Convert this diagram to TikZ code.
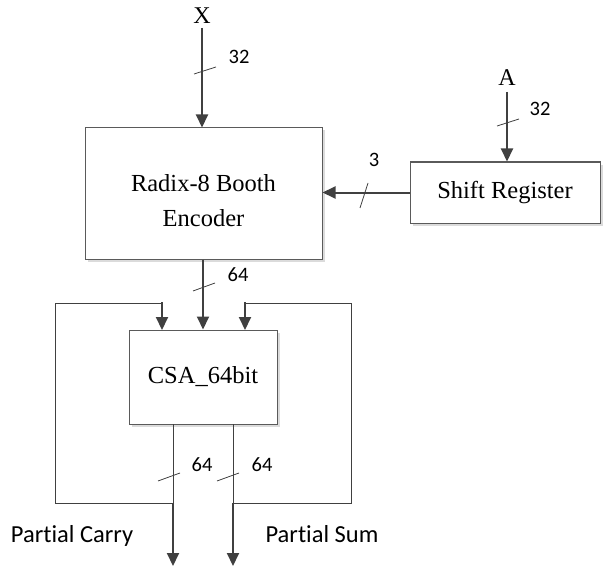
\documentclass[tikz,border=0pt]{standalone}
\usepackage{fontspec}
\setmainfont{Liberation Serif}
\newfontfamily\labelfont[Ligatures=NoCommon]{Carlito}
\usetikzlibrary{arrows.meta,shadows}
\definecolor{wire}{HTML}{404040}
\definecolor{edge}{HTML}{5A5A5A}
\tikzset{
  block/.style={draw=edge, line width=1pt, fill=white, inner sep=0pt,
    drop shadow={shadow xshift=2.5pt, shadow yshift=-2.5pt, fill=black!14, opacity=1}},
  blocktext/.style={font=\fontsize{24.5}{35}\selectfont, align=center, inner sep=0pt},
  bus/.style={draw=wire, line width=2pt, -{Triangle[length=13pt,width=12pt]}},
  thin wire/.style={draw=wire, line width=1pt},
  busmark/.style={draw=wire, line width=0.8pt},
  width lbl/.style={font=\labelfont\fontsize{20.5}{24}\selectfont, anchor=base, inner sep=0pt},
  port lbl/.style={font=\fontsize{24}{28}\selectfont, anchor=base, inner sep=0pt},
  out lbl/.style={font=\labelfont\fontsize{24.5}{29}\selectfont, anchor=base, inner sep=0pt},
}
\begin{document}
\begin{tikzpicture}[x=1pt,y=-1pt]
\useasboundingbox (0,0) rectangle (605,567);

% blocks
\node[block, minimum width=237pt, minimum height=131pt] (enc) at (203.5,193.5) {};
\node[blocktext] at ([yshift=-7pt]enc.center) {Radix-8 Booth\\Encoder};
\node[block, minimum width=190pt, minimum height=61pt] (sreg) at (505,192.5) {};
\node[blocktext] at (sreg.center) {Shift Register};
\node[block, minimum width=148pt, minimum height=94pt] (csa) at (203,377) {};
\node[blocktext] at (csa.center) {CSA\_64bit};

% ports
\node[port lbl] (x) at (202,24) {X};
\node[port lbl] (a) at (507,86) {A};
\node[out lbl] (pc) at (72,542) {Partial Carry};
\node[out lbl] (ps) at (322,542) {Partial Sum};

% junction points of the feedback loops
\coordinate (cin)  at (162,330);
\coordinate (sin)  at (245,330);
\coordinate (cout) at (173,424);
\coordinate (sout) at (233,424);
\coordinate (cj)   at (173,503);
\coordinate (sj)   at (233,503);
\coordinate (cend) at (173,566);
\coordinate (send) at (233,566);

% X into the encoder
\draw[bus] (202,28) -- (enc.north -| 202,0);
\draw[busmark] (194,74) -- (216,67);
\node[width lbl] at (239,64) {32};

% A into the shift register
\draw[bus] (507,92) -- (sreg.north -| 507,0);
\draw[busmark] (497,126) -- (519,119);
\node[width lbl] at (540,116) {32};

% shift register to encoder
\draw[bus] (sreg.west) -- (enc.east |- sreg.west);
\draw[busmark] (360,208) -- (368,183);
\node[width lbl] at (374,166) {3};

% encoder to CSA
\draw[bus] (enc.south -| 203,0) -- (csa.north -| 203,0);
\draw[busmark] (193,291) -- (215,283);
\node[width lbl] at (238,281) {64};

% CSA outputs
\draw[thin wire] (cout) -- (cj);
\draw[thin wire] (sout) -- (sj);
\draw[busmark] (158,481) -- (180,473);
\draw[busmark] (217,481) -- (239,473);
\node[width lbl] at (202,471) {64};
\node[width lbl] at (262,471) {64};
\draw[bus] (cj) -- (cend);
\draw[bus] (sj) -- (send);

% feedback loops
\draw[thin wire] (cj) -- (55,503) -- (55,303) -- (162,303);
\draw[bus] (162,302) -- (cin);
\draw[thin wire] (sj) -- (351,503) -- (351,303) -- (245,303);
\draw[bus] (245,302) -- (sin);
\end{tikzpicture}
\end{document}
